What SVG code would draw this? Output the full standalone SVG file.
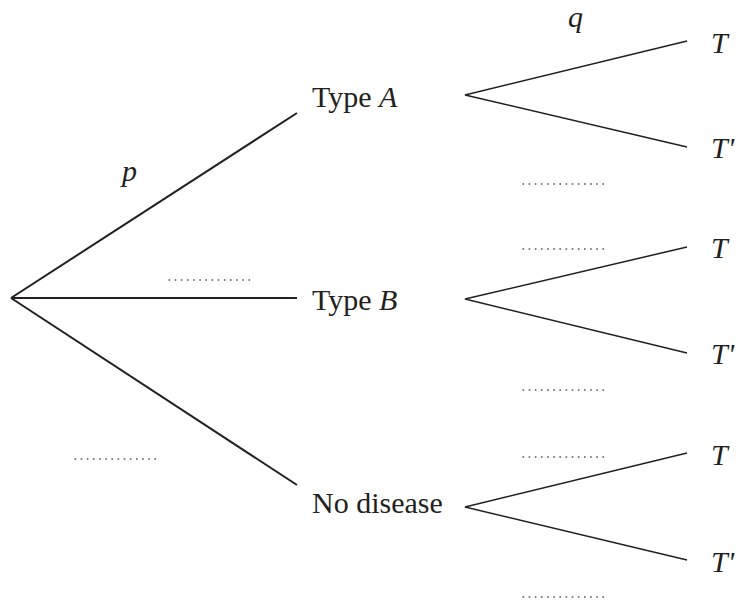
<svg xmlns="http://www.w3.org/2000/svg" width="736" height="601" viewBox="0 0 736 601">
<style>
text{font-family:'Times New Roman','Liberation Serif','DejaVu Serif',serif;font-size:30px;fill:#231f20}
.i{font-style:italic}
.e{stroke:#231f20;stroke-width:2;fill:none}
.b{stroke:#231f20;stroke-width:1.5;fill:none}
.d{stroke:#555;stroke-width:1.6;stroke-dasharray:1.6 4.55;fill:none}
</style>
<rect width="736" height="601" fill="#fff"/>
<g id="connectors">
<path class="e" d="M11,298 L297,113"/>
<path class="e" d="M11,298 L297,298"/>
<path class="e" d="M11,298 L297,485"/>
<path class="b" d="M687,41 L465,95 L687,147"/>
<path class="b" d="M687,247 L465,299 L687,353"/>
<path class="b" d="M687,453 L465,507 L687,560"/>
</g>
<g id="typeA"><text x="312" y="107">Type <tspan class="i">A</tspan></text></g>
<g id="typeB"><text x="312" y="310">Type <tspan class="i">B</tspan></text></g>
<g id="nodisease"><text x="312" y="513">No disease</text></g>
<g id="A_T"><text class="i" x="711" y="53">T</text></g>
<g id="A_Tp"><text class="i" x="711" y="158">T'</text></g>
<g id="B_T"><text class="i" x="711" y="258">T</text></g>
<g id="B_Tp"><text class="i" x="711" y="364">T'</text></g>
<g id="N_T"><text class="i" x="711" y="465">T</text></g>
<g id="N_Tp"><text class="i" x="711" y="572">T'</text></g>
<g id="labels">
<text class="i" x="122" y="181">p</text>
<text class="i" x="568" y="27">q</text>
<path class="d" d="M522.5,184 H605"/>
<path class="d" d="M522.5,249 H605"/>
<path class="d" d="M168.5,280 H251"/>
<path class="d" d="M522.5,390 H605"/>
<path class="d" d="M74.5,459 H157"/>
<path class="d" d="M522.5,457 H605"/>
<path class="d" d="M522.5,597 H605"/>
</g>
</svg>
